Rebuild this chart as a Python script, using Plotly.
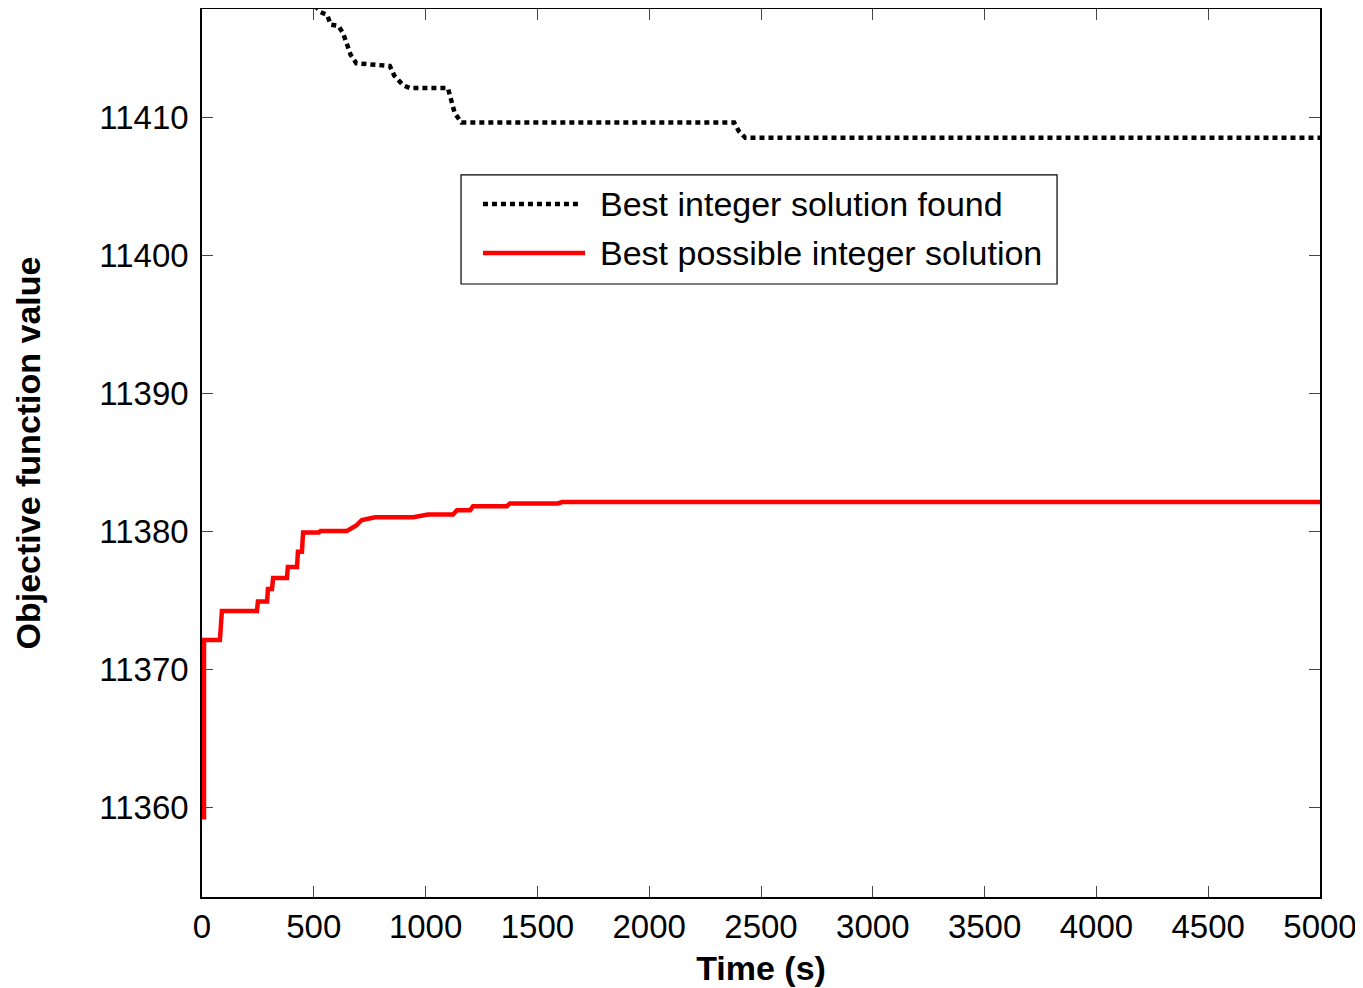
import plotly.graph_objects as go

# Best integer solution found (black dotted)
found_t = [480, 530, 560, 575, 610, 630, 650, 665, 690, 750, 840, 860, 900, 930,
           1100, 1115, 1130, 1160, 2380, 2400, 2430, 5000]
found_v = [11418.6, 11417.6, 11417.4, 11416.7, 11416.6, 11416.1, 11415.2, 11414.5,
           11413.9, 11413.8, 11413.7, 11413.0, 11412.3, 11412.1, 11412.1, 11411.2,
           11410.3, 11409.6, 11409.6, 11409.0, 11408.5, 11408.5]

# Best possible integer solution (red)
bound_t = [9, 9, 80, 89, 246, 250, 291, 295, 313, 318, 380, 384, 425, 429, 447, 452,
           523, 530, 648, 690, 715, 774, 944, 1011, 1123, 1140, 1199, 1212, 1364, 1377,
           1592, 1610, 5000]
bound_v = [11359.1, 11372.1, 11372.1, 11374.2, 11374.2, 11374.9, 11374.9, 11375.8,
           11375.8, 11376.6, 11376.6, 11377.4, 11377.4, 11378.5, 11378.5, 11379.9,
           11379.9, 11380.0, 11380.0, 11380.4, 11380.8, 11381.0, 11381.0, 11381.2,
           11381.2, 11381.5, 11381.5, 11381.8, 11381.8, 11382.0, 11382.0, 11382.1,
           11382.1]

x_ticks = [0, 500, 1000, 1500, 2000, 2500, 3000, 3500, 4000, 4500, 5000]
y_ticks = [11360, 11370, 11380, 11390, 11400, 11410]

series_names = ["Best integer solution found", "Best possible integer solution"]

FONT = "Liberation Sans, Arial, sans-serif"
TICK_SIZE = 33
TEXT_SIZE = 34

fig = go.Figure()
fig.add_trace(go.Scatter(x=found_t, y=found_v, mode="lines", name=series_names[0],
                         line=dict(color="black", width=4.5, dash="5px,4px"),
                         showlegend=False))
fig.add_trace(go.Scatter(x=bound_t, y=bound_v, mode="lines", name=series_names[1],
                         line=dict(color="#ff0000", width=4.5),
                         showlegend=False))

axis_common = dict(showline=True, linecolor="black", linewidth=1.5, mirror="ticks",
                   ticks="inside", ticklen=11, tickwidth=1, tickcolor="#444",
                   showgrid=False, zeroline=False,
                   tickfont=dict(family=FONT, size=TICK_SIZE, color="black"))

fig.update_xaxes(range=[0, 5000], tickvals=x_ticks, ticktext=[str(v) for v in x_ticks],
                 title=dict(text="<b>Time (s)</b>", standoff=12,
                            font=dict(family=FONT, size=TEXT_SIZE, color="black")),
                 **axis_common)
fig.update_yaxes(range=[11353.48, 11417.83], tickvals=y_ticks,
                 ticktext=[str(v) for v in y_ticks], ticklabelstandoff=5,
                 title=dict(text="<b>Objective function value</b>", standoff=48,
                            font=dict(family=FONT, size=TEXT_SIZE, color="black")),
                 **axis_common)

# Legend drawn in paper coordinates
fig.add_shape(type="rect", xref="paper", yref="paper", x0=0.2317, x1=0.7648,
              y0=0.6903, y1=0.8131, line=dict(color="black", width=1.2),
              fillcolor="white", layer="above")
fig.add_shape(type="line", xref="paper", yref="paper", x0=0.2513, x1=0.3399,
              y0=0.7804, y1=0.7804, line=dict(color="black", width=4.5, dash="5px,4px"),
              layer="above")
fig.add_shape(type="line", xref="paper", yref="paper", x0=0.2513, x1=0.3426,
              y0=0.7252, y1=0.7252, line=dict(color="#ff0000", width=4.5),
              layer="above")
fig.add_annotation(xref="paper", yref="paper", x=0.3542, y=0.7804, xanchor="left",
                   yanchor="middle", showarrow=False, text=series_names[0],
                   font=dict(family=FONT, size=TEXT_SIZE, color="black"))
fig.add_annotation(xref="paper", yref="paper", x=0.3542, y=0.7252, xanchor="left",
                   yanchor="middle", showarrow=False, text=series_names[1],
                   font=dict(family=FONT, size=TEXT_SIZE, color="black"))

fig.update_layout(width=1355, height=980, paper_bgcolor="white", plot_bgcolor="white",
                  margin=dict(l=194, r=43, t=1, b=91, autoexpand=False),
                  font=dict(family=FONT, color="black"))

fig.write_html("out.html")
